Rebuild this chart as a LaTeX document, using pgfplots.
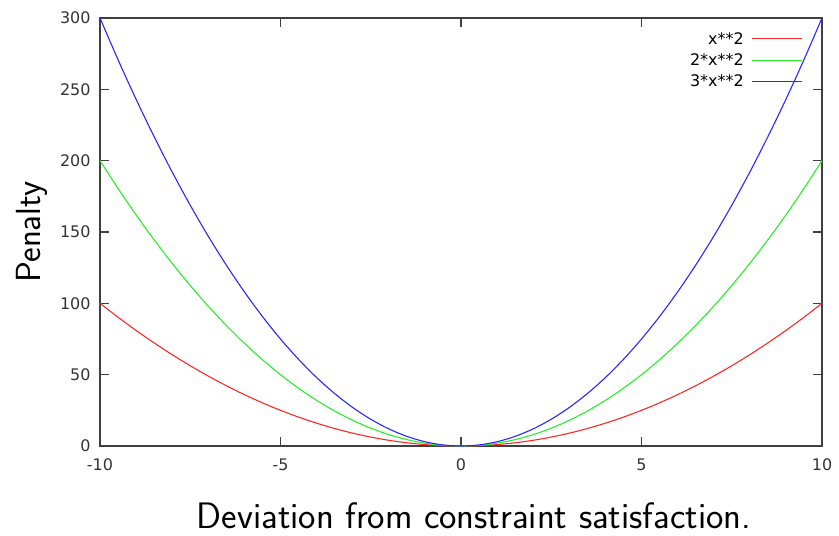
\documentclass[border=0pt]{standalone}
\usepackage{fontspec}
\usepackage{pgfplots}
\pgfplotsset{compat=1.18}
\usepackage{pgfplotstable}
\newfontfamily\dejavu{DejaVu Sans}
\definecolor{gred}{RGB}{255,40,40}
\definecolor{ggreen}{RGB}{40,240,40}
\definecolor{gblue}{RGB}{40,40,255}
\pgfplotstableread{
x a b c
-10 100 200 300
-9.5 90.25 180.5 270.75
-9 81 162 243
-8.5 72.25 144.5 216.75
-8 64 128 192
-7.5 56.25 112.5 168.75
-7 49 98 147
-6.5 42.25 84.5 126.75
-6 36 72 108
-5.5 30.25 60.5 90.75
-5 25 50 75
-4.5 20.25 40.5 60.75
-4 16 32 48
-3.5 12.25 24.5 36.75
-3 9 18 27
-2.5 6.25 12.5 18.75
-2 4 8 12
-1.5 2.25 4.5 6.75
-1 1 2 3
-0.5 0.25 0.5 0.75
0 0 0 0
0.5 0.25 0.5 0.75
1 1 2 3
1.5 2.25 4.5 6.75
2 4 8 12
2.5 6.25 12.5 18.75
3 9 18 27
3.5 12.25 24.5 36.75
4 16 32 48
4.5 20.25 40.5 60.75
5 25 50 75
5.5 30.25 60.5 90.75
6 36 72 108
6.5 42.25 84.5 126.75
7 49 98 147
7.5 56.25 112.5 168.75
8 64 128 192
8.5 72.25 144.5 216.75
9 81 162 243
9.5 90.25 180.5 270.75
10 100 200 300
}\data
\begin{document}
\begin{tikzpicture}
\begin{axis}[
  scale only axis,
  width=722bp, height=428bp,
  xmin=-10, xmax=10, ymin=0, ymax=300,
  axis line style={black!75, line width=1.3bp},
  xtick={-10,-5,0,5,10},
  xticklabels={-10,-5,0,5,10},
  ytick={0,50,100,150,200,250,300},
  yticklabels={0,50,100,150,200,250,300},
  tick style={black!75, line width=1.1bp},
  major tick length=9bp,
  tick align=inside,
  ticklabel style={font=\dejavu\fontsize{16}{18}\selectfont, text=black!80},
  xticklabel style={yshift=-9bp},
  yticklabel style={xshift=-6bp},
  xlabel={\sffamily\fontsize{37}{42}\selectfont Deviation from constraint satisfaction.},
  ylabel={\sffamily\fontsize{35}{40}\selectfont Penalty},
  xlabel style={at={(rel axis cs:0.5,0)}, anchor=base, yshift=-82bp, xshift=13bp},
  ylabel style={at={(rel axis cs:0,0.5)}, anchor=base, yshift=59bp},
  legend style={at={(rel axis cs:1,1)}, anchor=north east, xshift=-16bp, yshift=-10bp,
    draw=none, fill=none, font=\dejavu\fontsize{16}{18}\selectfont,
    row sep=4bp, column sep=6bp},
  legend cell align=right,
  legend plot pos=right,
  legend image code/.code={\draw[mark repeat=2,mark phase=2,#1] plot coordinates {(0bp,0bp) (25bp,0bp) (50bp,0bp)};},
  clip=true,
]
\addplot[gred, line width=1.1bp, smooth] table[x=x, y=a] {\data};
\addlegendentry{x**2}
\addplot[ggreen, line width=1.1bp, smooth] table[x=x, y=b] {\data};
\addlegendentry{2*x**2}
\addplot[gblue, line width=1.1bp, smooth] table[x=x, y=c] {\data};
\addlegendentry{3*x**2}
\coordinate (ll) at (rel axis cs:0,0);
\coordinate (ur) at (rel axis cs:1,1);
\end{axis}
\pgfresetboundingbox
\path ([shift={(-100bp,-90bp)}]ll) ([shift={(17bp,18bp)}]ur);
\end{tikzpicture}
\end{document}
